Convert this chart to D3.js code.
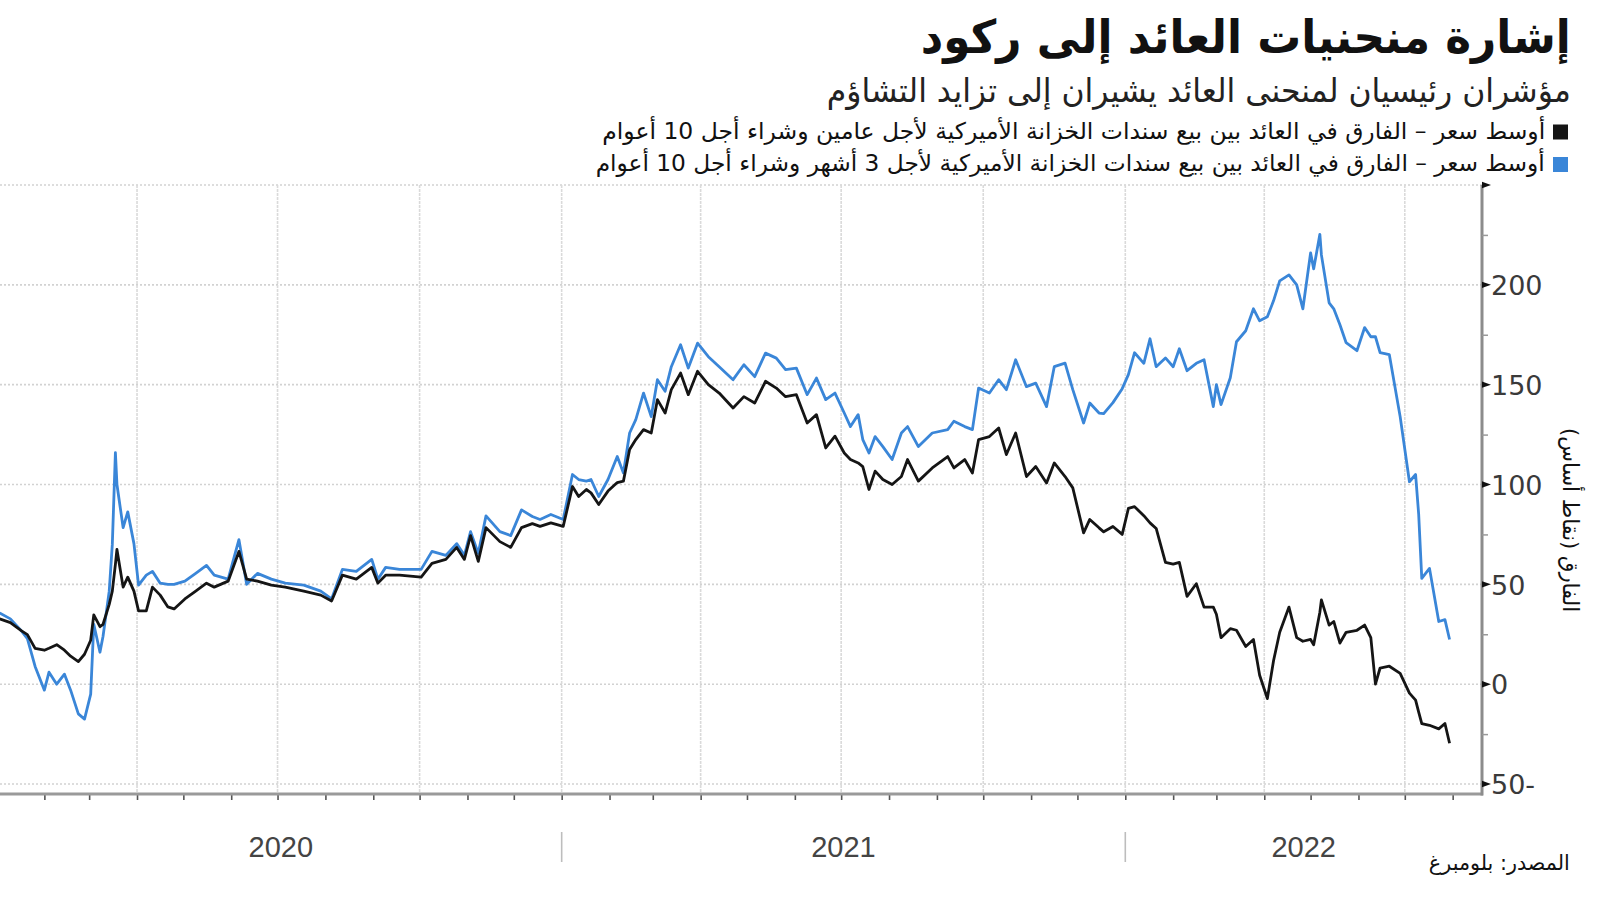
<!DOCTYPE html>
<html>
<head>
<meta charset="utf-8">
<script src="https://cdn.jsdelivr.net/npm/d3@7"></script>
<style>
  html, body { margin: 0; padding: 0; background: #fff; }
  body { width: 1600px; height: 901px; overflow: hidden; position: relative; font-family: "DejaVu Sans", sans-serif; }
  svg { position: absolute; left: 0; top: 0; }
  .t { position: absolute; white-space: nowrap; direction: rtl; transform-origin: right center; color: #111; }
</style>
</head>
<body>
<script>
// ---------------- data ----------------
const dates = [
  "2020-01-03","2020-01-10","2020-01-17","2020-01-21","2020-01-26","2020-02-01","2020-02-04","2020-02-09","2020-02-14","2020-02-18",
  "2020-02-23","2020-02-27","2020-03-02","2020-03-04","2020-03-08","2020-03-10","2020-03-14","2020-03-16","2020-03-18","2020-03-19",
  "2020-03-23","2020-03-26","2020-03-30","2020-04-02","2020-04-07","2020-04-11","2020-04-16","2020-04-21","2020-04-25","2020-05-02",
  "2020-05-09","2020-05-16","2020-05-21","2020-05-30","2020-06-06","2020-06-11","2020-06-18","2020-06-27","2020-07-06","2020-07-18",
  "2020-07-29","2020-08-05","2020-08-12","2020-08-21","2020-08-31","2020-09-04","2020-09-09","2020-09-18","2020-10-02","2020-10-09",
  "2020-10-18","2020-10-25","2020-10-30","2020-11-03","2020-11-08","2020-11-13","2020-11-22","2020-11-29","2020-12-06","2020-12-13",
  "2020-12-18","2020-12-25","2021-01-02","2021-01-08","2021-01-12","2021-01-17","2021-01-20","2021-01-25","2021-01-31","2021-02-06",
  "2021-02-10","2021-02-14","2021-02-18","2021-02-23","2021-02-28","2021-03-04","2021-03-09","2021-03-13","2021-03-19","2021-03-24",
  "2021-03-30","2021-04-06","2021-04-13","2021-04-22","2021-04-29","2021-05-06","2021-05-13","2021-05-20","2021-05-26","2021-06-02",
  "2021-06-09","2021-06-15","2021-06-21","2021-06-27","2021-07-03","2021-07-07","2021-07-12","2021-07-15","2021-07-19","2021-07-23",
  "2021-07-28","2021-08-03","2021-08-09","2021-08-13","2021-08-20","2021-08-29","2021-09-08","2021-09-12","2021-09-19","2021-09-24",
  "2021-09-28","2021-10-05","2021-10-11","2021-10-16","2021-10-22","2021-10-29","2021-11-04","2021-11-11","2021-11-16","2021-11-23",
  "2021-11-28","2021-12-05","2021-12-09","2021-12-15","2021-12-18","2021-12-24","2021-12-30","2022-01-03","2022-01-07","2022-01-13",
  "2022-01-17","2022-01-21","2022-01-27","2022-02-01","2022-02-05","2022-02-10","2022-02-16","2022-02-21","2022-02-27","2022-03-01",
  "2022-03-04","2022-03-10","2022-03-14","2022-03-20","2022-03-25","2022-03-29","2022-04-03","2022-04-07","2022-04-11","2022-04-17",
  "2022-04-22","2022-04-26","2022-05-01","2022-05-03","2022-05-07","2022-05-08","2022-05-13","2022-05-16","2022-05-20","2022-05-24",
  "2022-05-31","2022-06-05","2022-06-09","2022-06-12","2022-06-15","2022-06-21","2022-06-28","2022-07-04","2022-07-08","2022-07-10",
  "2022-07-12","2022-07-17","2022-07-23","2022-07-27","2022-07-30"
];

// 2-year / 10-year spread (black)
const spread2y10y = [
  32.7,30.8,26.8,24.8,17.9,17,18,19.8,17,14,
  11.3,15,22,34.7,28.8,30,40,46.6,60,67.5,
  48.6,53.6,46.6,36.7,36.7,48.6,44.6,38.7,37.7,42.7,
  46.6,50.6,48.6,51.6,66.5,52.6,51.6,49.6,48.6,46.6,
  44.6,41.7,54.6,52.6,58.5,50.6,54.6,54.6,53.6,60.5,
  62.5,68.5,62.5,74.4,61.5,78.4,71.4,68.5,78.4,80.4,
  79,80.8,79,99,94,97.5,95.8,90,96.7,101,
  101.7,117.5,122.5,127.5,125.8,142.5,135.8,147.5,155.8,145,
  156.7,150,145.8,138.3,144,140.8,151.7,148.3,144,145,
  130.8,135,118.3,124.2,115.8,112.5,110.8,109,97.5,106.7,
  102.5,100,104,112.5,101.7,108.3,114,108.3,112.5,105.8,
  122.5,124,128.3,115,125.8,104,109,100.8,110.8,104,
  98.3,75.8,82.5,78.3,76.3,79,75,88,88.9,84.4,
  80.8,78,61,60.1,61,44,50.3,38.6,38.6,35,
  23.3,27.8,27,18.9,22.4,4.5,-7.2,11.7,26,38.6,
  23.3,21.5,22.4,19.7,36,42.2,29.6,31.4,20.6,26,
  27,29.6,23.3,0,8.1,9,5.4,-4.5,-8,-14,
  -19.7,-20.6,-22.4,-19.7,-29.6
];

// 3-month / 10-year spread (blue)
const spread3m10y = [
  35.7,32.7,26.8,22.8,8.9,-3,6,0,5,-3,
  -14.9,-17.5,-5,30,16,24,46.6,70,116,100,
  78.4,86.3,70.4,49.6,54.6,56.5,50.6,50,50,51.6,
  55.5,59.5,54.6,52.6,72.4,50,55.5,52.6,50.6,49.6,
  46.6,42.7,57.5,56.5,62.5,52.6,58.5,57.5,57.5,66.5,
  64.5,70.4,64.5,76.4,65.5,84.3,76.4,74.4,87.3,84,
  82.5,85,82.5,105,102.5,101.7,102.5,94,102.5,114,
  105.8,125.8,132.5,145.8,134,152.5,146.7,159,170,158.3,
  170.8,164,159,152.5,160,154,165.8,163.3,157.5,158.3,
  145,153.3,142.5,145.8,135.8,129,135,122.5,115.8,124,
  119,112.5,125.8,129,119,125.8,127.5,131.7,129,127.5,
  148.3,145.8,152.5,147.5,162.5,149,150.8,139,159,160.8,
  147.5,130.8,140.8,135.8,135.5,141,148,155,166,160.7,
  173,159,163.4,159,168,157,160.7,162.5,139,150,
  140,153.5,171.5,177,188,182,184,192,202,205,
  200,188,216,208,225.3,215,191,188,180,171,
  167,178.6,174,174,166,165,134,101.4,105,85,
  53,58,31.4,32.3,22.4
];

const yTickValues = [-50, 0, 50, 100, 150, 200];
const yTickLabels = ["50-", "0", "50", "100", "150", "200"];
const yearLabels = ["2020", "2021", "2022"];
const yearStarts = ["2020-01-01", "2021-01-01", "2022-01-01"];

const titleText = "إشارة منحنيات العائد إلى ركود";
const subtitleText = "مؤشران رئيسيان لمنحنى العائد يشيران إلى تزايد التشاؤم";
const legendLabels = [
  "أوسط سعر – الفارق في العائد بين بيع سندات الخزانة الأميركية لأجل عامين وشراء أجل 10 أعوام",
  "أوسط سعر – الفارق في العائد بين بيع سندات الخزانة الأميركية لأجل 3 أشهر وشراء أجل 10 أعوام"
];
const seriesColors = ["#151515", "#3a86d8"];
const yAxisTitle = "الفارق (نقاط أساس)";
const sourceText = "المصدر: بلومبرغ";

// ---------------- layout ----------------
const W = 1600, H = 901;
const plotLeft = -3.5, plotRight = 1482, plotTop = 185, plotBottom = 794;
const parse = d3.timeParse("%Y-%m-%d");
const dateObjs = dates.map(parse);

const x = d3.scaleTime()
  .domain([parse("2020-01-01"), parse("2022-08-20")])
  .range([plotLeft, plotRight]);
const y = d3.scaleLinear().domain([-55, 250]).range([plotBottom, plotTop]);

const svg = d3.select("body").append("svg").attr("width", W).attr("height", H);

// horizontal gridlines
const gridVals = d3.range(-50, 251, 50);
svg.append("g").selectAll("line").data(gridVals).join("line")
  .attr("x1", 0).attr("x2", plotRight)
  .attr("y1", d => y(d)).attr("y2", d => y(d))
  .attr("stroke", "#d2d2d2").attr("stroke-width", 1.6).attr("stroke-dasharray", "2,2");

// vertical gridlines (quarters)
const quarters = d3.timeMonth.every(3).range(parse("2020-03-01"), parse("2022-08-01"));
svg.append("g").selectAll("line").data(quarters).join("line")
  .attr("x1", d => x(d)).attr("x2", d => x(d))
  .attr("y1", plotTop).attr("y2", plotBottom)
  .attr("stroke", "#dadada").attr("stroke-width", 1.6).attr("stroke-dasharray", "3,1");

// lines
const seriesList = [spread3m10y, spread2y10y];
const colorList = [seriesColors[1], seriesColors[0]];
seriesList.forEach((vals, si) => {
  const line = d3.line().x((d, i) => x(dateObjs[i])).y(d => y(d));
  svg.append("path").datum(vals)
    .attr("d", line)
    .attr("fill", "none")
    .attr("stroke", colorList[si])
    .attr("stroke-width", 2.8)
    .attr("stroke-linejoin", "round");
});

// bottom axis (monthly ticks)
const monthTicks = d3.timeMonth.every(1).range(parse("2020-02-01"), parse("2022-08-20"));
const xAxis = d3.axisBottom(x).tickValues(monthTicks).tickSize(6).tickFormat("");
const gx = svg.append("g").attr("transform", `translate(0,${plotBottom})`).call(xAxis);
gx.select(".domain").remove();
gx.selectAll(".tick line").attr("stroke", "#555").attr("stroke-width", 1.6);
svg.append("line").attr("x1", 0).attr("x2", plotRight + 1)
  .attr("y1", plotBottom).attr("y2", plotBottom)
  .attr("stroke", "#9a9a9a").attr("stroke-width", 3);

// right axis
svg.append("line").attr("x1", plotRight).attr("x2", plotRight)
  .attr("y1", plotTop).attr("y2", plotBottom + 1.5)
  .attr("stroke", "#8c8c8c").attr("stroke-width", 3);

// minor ticks
const minorVals = d3.range(-25, 250, 50);
const minorAxis = d3.axisRight(y).tickValues(minorVals).tickSize(6).tickFormat("");
const gm = svg.append("g").attr("transform", `translate(${plotRight},0)`).call(minorAxis);
gm.select(".domain").remove();
gm.selectAll(".tick line").attr("stroke", "#999").attr("stroke-width", 1.5);

// major tick markers (small arrowheads)
const majorVals = d3.range(-50, 251, 50);
svg.append("g").selectAll("path").data(majorVals).join("path")
  .attr("d", d => `M${plotRight},${y(d) - 3.2}L${plotRight + 9},${y(d)}L${plotRight},${y(d) + 3.2}Z`)
  .attr("fill", "#111");

// tick labels
const yAxis = d3.axisRight(y).tickValues(yTickValues).tickSize(0).tickPadding(9)
  .tickFormat((d, i) => yTickLabels[i]);
const gy = svg.append("g").attr("transform", `translate(${plotRight},0)`).call(yAxis);
gy.select(".domain").remove();
gy.selectAll(".tick text")
  .attr("fill", "#3a3a3a")
  .style("font-family", "'DejaVu Sans', sans-serif")
  .style("font-size", "27px")
  .attr("dy", "0.36em");

// year separators and labels
const yearEnds = [parse("2021-01-01"), parse("2022-01-01"), x.invert(plotRight)];
svg.append("g").selectAll("line").data(yearStarts.slice(1)).join("line")
  .attr("x1", d => x(parse(d))).attr("x2", d => x(parse(d)))
  .attr("y1", 832).attr("y2", 862)
  .attr("stroke", "#bdbdbd").attr("stroke-width", 1.6);
svg.append("g").selectAll("text").data(yearLabels).join("text")
  .attr("x", (d, i) => (x(parse(yearStarts[i])) + x(yearEnds[i])) / 2 + (i === 0 ? 1.7 : 0))
  .attr("y", 847)
  .attr("text-anchor", "middle")
  .attr("dominant-baseline", "central")
  .attr("fill", "#444")
  .style("font-family", "'Liberation Sans', Arial, sans-serif")
  .style("font-size", "29px")
  .text(d => d);

// legend swatches
const legendY = [124.5, 157];
svg.append("g").selectAll("rect").data(legendLabels).join("rect")
  .attr("x", 1553).attr("y", (d, i) => legendY[i])
  .attr("width", 15).attr("height", 15)
  .attr("fill", (d, i) => seriesColors[i]);

// ---------------- HTML text (RTL) ----------------
function placeText(txt, o) {
  const div = d3.select("body").append("div").attr("class", "t").text(txt)
    .style("font-size", o.size + "px")
    .style("line-height", o.size + "px")
    .style("font-weight", o.weight || "normal")
    .style("color", o.color || "#111")
    .style("right", (W - o.right) + "px")
    .style("top", (o.baseline - 0.846 * o.size) + "px");
  const w = div.node().getBoundingClientRect().width;
  div.style("transform", `scaleX(${o.width / w})`);
  return div;
}

placeText(titleText, { right: 1571, baseline: 53, size: 46, weight: "bold", width: 650, color: "#111" });
placeText(subtitleText, { right: 1571, baseline: 102, size: 33, width: 744, color: "#222" });
placeText(legendLabels[0], { right: 1545, baseline: 139, size: 23, width: 943, color: "#111" });
placeText(legendLabels[1], { right: 1545, baseline: 171.5, size: 23, width: 949, color: "#111" });
placeText(sourceText, { right: 1570, baseline: 871, size: 21, width: 141, color: "#111" });

// rotated y-axis title
(function () {
  const size = 22;
  const div = d3.select("body").append("div").attr("class", "t").text(yAxisTitle)
    .style("font-size", size + "px").style("line-height", size + "px")
    .style("color", "#111").style("transform-origin", "center center");
  const r = div.node().getBoundingClientRect();
  const cx = 1570, cy = 520;
  div.style("left", (cx - r.width / 2) + "px").style("top", (cy - r.height / 2) + "px")
    .style("transform", `rotate(90deg) scaleX(${184 / r.width})`);
})();
</script>
</body>
</html>
